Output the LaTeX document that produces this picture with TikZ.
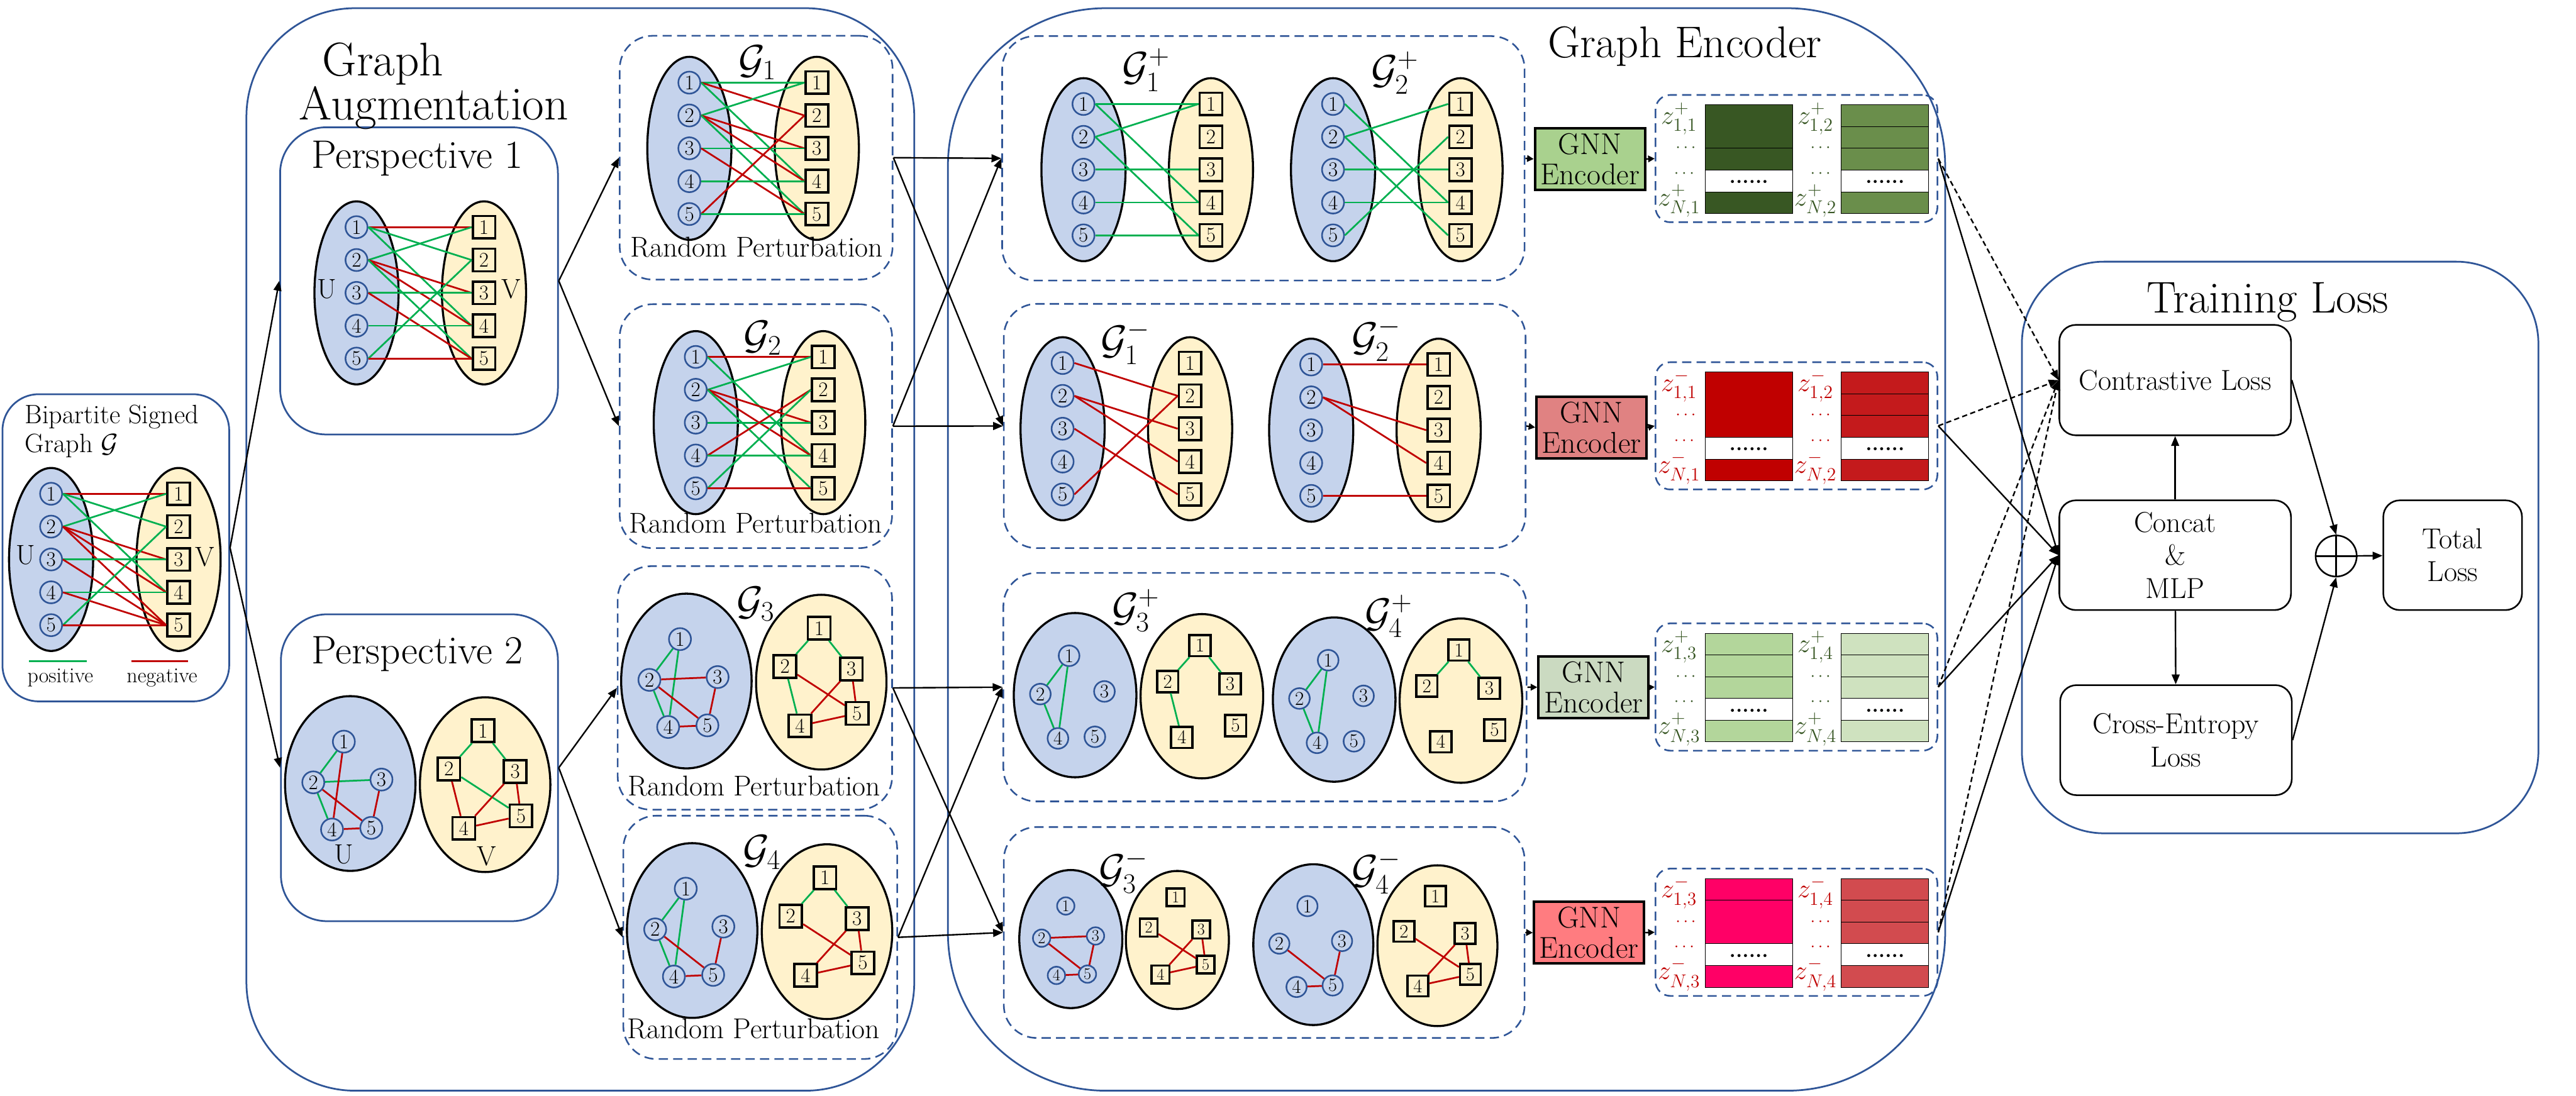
\documentclass[tikz,border=0pt]{standalone}
\usepackage{fix-cm}
\usepackage{fontspec}
\usepackage{amssymb}
\usepackage{amsmath}
\usepackage{xcolor}
\usepackage{tikz}
\usetikzlibrary{shapes.geometric, arrows.meta, positioning, calc}

\definecolor{boxblue}{HTML}{2F5597}
\definecolor{setu}{HTML}{C5D3EC}
\definecolor{setv}{HTML}{FFF2CC}
\definecolor{posc}{HTML}{00B050}
\definecolor{negc}{HTML}{C00000}
\definecolor{gnnA}{HTML}{A9D18E}
\definecolor{gnnB}{HTML}{E08282}
\definecolor{gnnC}{HTML}{CBDAC1}
\definecolor{gnnD}{HTML}{FF7C80}
\definecolor{embAl}{HTML}{385723}
\definecolor{embAr}{HTML}{6A8E4B}
\definecolor{embBl}{HTML}{C00000}
\definecolor{embBr}{HTML}{C41A1C}
\definecolor{embCl}{HTML}{B3D69B}
\definecolor{embCr}{HTML}{CFE2BF}
\definecolor{embDl}{HTML}{FF0066}
\definecolor{embDr}{HTML}{D24B4F}
\definecolor{zgreen}{HTML}{375623}
\definecolor{zred}{HTML}{C00000}

\newcommand{\fsnum}{\fontsize{18}{18}\selectfont}
\newcommand{\fsset}{\fontsize{24}{24}\selectfont}
\newcommand{\fsbip}{\fontsize{23}{25}\selectfont}
\newcommand{\fslegend}{\fontsize{18.5}{18.5}\selectfont}
\newcommand{\fspersp}{\fontsize{34.5}{34.5}\selectfont}
\newcommand{\fsaug}{\fontsize{41}{31}\selectfont}
\newcommand{\fstitle}{\fontsize{38.5}{31}\selectfont}
\newcommand{\fsrandom}{\fontsize{24.8}{24.8}\selectfont}
\newcommand{\fsgraph}{\fontsize{35}{35}\selectfont}
\newcommand{\fsgnn}{\fontsize{26}{26}\selectfont}
\newcommand{\fsz}{\fontsize{23}{23}\selectfont}
\newcommand{\fsdots}{\fontsize{15}{15}\selectfont}
\newcommand{\fsrow}{\fontsize{18}{18}\selectfont}
\newcommand{\fsloss}{\fontsize{25}{28.5}\selectfont}

\tikzstyle{bigbox} = [rectangle, draw=boxblue, line width=1.5pt, inner sep=0]
\tikzstyle{dashbox} = [rectangle, draw=boxblue, line width=1.4pt, dash pattern=on 2.8mm off 1.6mm, rounded corners=10mm, inner sep=0]
\tikzstyle{embbox} = [rectangle, draw=boxblue, line width=1.4pt, dash pattern=on 2.8mm off 1.6mm, rounded corners=4.5mm, inner sep=0, minimum width=85.8mm, minimum height=38.75mm]
\tikzstyle{uset} = [ellipse, draw=black, line width=1.8pt, fill=setu, inner sep=0]
\tikzstyle{vset} = [ellipse, draw=black, line width=1.8pt, fill=setv, inner sep=0]
\tikzstyle{unode} = [circle, draw=boxblue, line width=1.4pt, minimum size=6.7mm, inner sep=0, font=\fsnum]
\tikzstyle{vnode} = [rectangle, draw=black, line width=2pt, minimum size=6.85mm, inner sep=0, font=\fsnum]
\tikzstyle{edge} = [line width=1.5pt]
\tikzstyle{arrow} = [line width=1.3pt, -{Triangle[length=3mm, width=2.4mm]}]
\tikzstyle{gnn} = [rectangle, draw=black, line width=2.2pt, minimum width=33.5mm, minimum height=18.75mm, inner sep=0, align=center, font=\fsgnn]
\tikzstyle{lossbox} = [rectangle, draw=black, line width=1.4pt, rounded corners=5mm, align=center, inner sep=0, font=\fsloss]
\tikzstyle{gtitle} = [inner sep=0, font=\fsgraph]
\tikzstyle{zlabel} = [inner sep=0, font=\fsz]
\tikzstyle{zdots} = [inner sep=0, font=\fsdots]

% two-column bipartite graph, nodes stacked
\newcommand{\tallgraph}[3]{%
  \begin{scope}[shift={#2}]
    \node[uset, minimum width=25.6mm, minimum height=55.7mm] (#1U) at (0,0) {};
    \node[vset, minimum width=25.6mm, minimum height=55.7mm] (#1V) at (77.6,0) {};
    \foreach \i in {1,...,5} {
      \node[unode] (#1u\i) at (0,{20*(\i-3)}) {\i};
      \node[vnode] (#1v\i) at (77.6,{20*(\i-3)}) {\i};
    }
    \foreach \a/\b/\c in {#3}
      \draw[edge, draw=\c] (#1u\a.east) -- (#1v\b.west);
  \end{scope}}

% two sets drawn side by side, edges inside each set
\newcommand{\roundgraph}[5]{%
  \begin{scope}[shift={#2}, scale=#3, transform shape]
    \node[uset, minimum width=39.7mm, minimum height=53.2mm] (#1U) at (0,0) {};
    \node[vset, minimum width=39.7mm, minimum height=53.2mm] (#1V) at (82.1,0.7) {};
    \foreach \i/\x/\y in {1/-3.9/-25.5, 2/-22.5/-0.7, 3/19/-2.4, 4/-11.1/28, 5/12.8/27}
      \node[unode] (#1u\i) at (\x,\y) {\i};
    \foreach \i/\x/\y in {1/-1.3/-32.8, 2/-22.1/-9.5, 3/18.3/-8, 4/-13/26.6, 5/21.8/19}
      \node[vnode] (#1v\i) at ({82.1+\x},{0.7+\y}) {\i};
    \foreach \a/\b/\c in {#4}
      \draw[edge, draw=\c] (#1u\a) -- (#1u\b);
    \foreach \a/\b/\c in {#5}
      \draw[edge, draw=\c] (#1v\a) -- (#1v\b);
  \end{scope}}

% one embedding column: x, top, colour, separators, name of dots
\newcommand{\embcol}[5]{%
  \fill[#3] (#1,#2) rectangle ++(53.2,39.7);
  \fill[#3] (#1,{#2+53}) rectangle ++(53.2,13.2);
  \foreach \s in {#4}
    \draw[line width=0.5pt] (#1,{#2+13.24*\s}) -- ++(53.2,0);
  \draw[line width=0.5pt] (#1,#2) rectangle ++(53.2,66.2);
  \node[inner sep=0, font=\fsrow\bfseries] (#5) at ({#1+26.6},{#2+47}) {......};}

% name, top, left colour, right colour, sign, k1, k2, label colour, left separators
\newcommand{\embblock}[9]{%
  \node[embbox] (#1) at (1093.5,{#2+38.75}) {};
  \embcol{1037.9}{#2+6}{#3}{#9}{#1dl}
  \embcol{1120.8}{#2+6}{#4}{1,2,3,4}{#1dr}
  \node[zlabel, text=#8] (#1la) at (1022,{#2+14.5}) {$z^{#5}_{1,#6}$};
  \node[zdots, text=#8] (#1lb) at (1027,{#2+32.4}) {$\cdots$};
  \node[zdots, text=#8] (#1lc) at (1026,{#2+48}) {$\cdots$};
  \node[zlabel, text=#8] (#1ld) at (1022,{#2+64.5}) {$z^{#5}_{N,#6}$};
  \node[zlabel, text=#8] (#1ra) at (1105,{#2+14.5}) {$z^{#5}_{1,#7}$};
  \node[zdots, text=#8] (#1rb) at (1109,{#2+32.4}) {$\cdots$};
  \node[zdots, text=#8] (#1rc) at (1109,{#2+48}) {$\cdots$};
  \node[zlabel, text=#8] (#1rd) at (1105,{#2+64.5}) {$z^{#5}_{N,#7}$};}

\begin{document}
\begin{tikzpicture}[x=0.5mm, y=-0.5mm]
  \useasboundingbox (0,0) rectangle (1568,667);

  % outer frames
  \node[bigbox, rounded corners=11mm, minimum width=69mm, minimum height=93.5mm] (bip) at (70.5,333.5) {};
  \node[bigbox, rounded corners=33mm, minimum width=203.25mm, minimum height=329.5mm] (augbox) at (353.25,334.5) {};
  \node[bigbox, rounded corners=48mm, minimum width=303.5mm, minimum height=329.5mm] (encbox) at (880.5,334.5) {};
  \node[bigbox, rounded corners=25mm, minimum width=157.2mm, minimum height=174mm] (lossarea) at (1387.9,333.3) {};
  \node[bigbox, rounded corners=14mm, minimum width=84.55mm, minimum height=93.5mm] (persp1) at (255.05,171) {};
  \node[bigbox, rounded corners=14mm, minimum width=84.3mm, minimum height=93.4mm] (persp2) at (255.3,467.4) {};

  \node[dashbox, minimum width=83.05mm, minimum height=74.2mm] (augAbox) at (460.25,96) {};
  \node[dashbox, minimum width=82.9mm, minimum height=74.25mm] (augBbox) at (460.1,259.45) {};
  \node[dashbox, minimum width=83.5mm, minimum height=74.1mm] (augCbox) at (459.5,418.8) {};
  \node[dashbox, minimum width=83.35mm, minimum height=74.05mm] (augDbox) at (462.75,570.65) {};
  \node[dashbox, minimum width=159mm, minimum height=74.4mm] (encA) at (769,96.4) {};
  \node[dashbox, minimum width=158.8mm, minimum height=74.35mm] (encB) at (769.8,259.35) {};
  \node[dashbox, minimum width=159.25mm, minimum height=69.55mm] (encC) at (770,418.35) {};
  \node[dashbox, minimum width=158.5mm, minimum height=64.2mm] (encD) at (769.5,567.7) {};

  % titles
  \node[anchor=north west, align=left, inner sep=0, font=\fsaug] (augtitle) at (182,26) {\hspace*{7mm}Graph\\Augmentation};
  \node[anchor=base west, inner sep=0, font=\fstitle] (enctitle) at (942,35) {Graph Encoder};
  \node[anchor=base, inner sep=0, font=\fstitle] (losstitle) at (1380.3,190.6) {Training Loss};
  \node[anchor=base, inner sep=0, font=\fspersp] (p1title) at (254,102.3) {Perspective 1};
  \node[anchor=base, inner sep=0, font=\fspersp] (p2title) at (254,404) {Perspective 2};
  \node[anchor=north west, align=left, inner sep=0, font=\fsbip] (biptitle) at (15,246.5) {Bipartite Signed\\Graph $\mathcal{G}$};

  % input graph and perspective 1
  \tallgraph{inG}{(31.1,340.6)}{1/1/negc, 1/2/posc, 1/4/posc, 2/1/posc, 2/3/negc, 2/4/negc, 2/5/negc, 3/3/posc, 3/5/negc, 4/4/posc, 4/5/negc, 5/2/posc, 5/5/negc}
  \node[inner sep=0, font=\fsset] (inGUl) at (15.5,338) {U};
  \node[inner sep=0, font=\fsset] (inGVl) at (124.6,339) {V};
  \draw[edge, draw=posc] (17.8,402.6) -- (52.7,402.6);
  \draw[edge, draw=negc] (79.9,402.6) -- (114.6,402.6);
  \node[anchor=base, inner sep=0, font=\fslegend] (legpos) at (36.7,415.5) {positive};
  \node[anchor=base, inner sep=0, font=\fslegend] (legneg) at (98.6,415.5) {negative};

  \tallgraph{perA}{(217,178.3)}{1/1/negc, 1/2/posc, 1/4/posc, 2/1/posc, 2/3/negc, 2/4/negc, 2/5/posc, 3/3/posc, 3/5/negc, 4/4/posc, 5/2/posc, 5/5/negc}
  \node[inner sep=0, font=\fsset] (perAUl) at (199,176) {U};
  \node[inner sep=0, font=\fsset] (perAVl) at (311,176) {V};

  % perspective 2
  \roundgraph{perB}{(213.2,477)}{1}{1/2/posc, 2/3/posc, 2/4/posc, 1/4/negc, 2/5/negc, 3/5/negc, 4/5/negc}{1/2/posc, 1/3/posc, 2/5/posc, 2/4/negc, 3/4/negc, 3/5/negc, 4/5/negc}
  \node[inner sep=0, font=\fsset] (perBUl) at (209.3,520.3) {U};
  \node[inner sep=0, font=\fsset] (perBVl) at (296.3,521.5) {V};

  % augmented views
  \tallgraph{augA}{(419.6,90.3)}{1/1/posc, 1/2/negc, 1/4/posc, 2/1/posc, 2/3/negc, 2/4/negc, 2/5/posc, 3/3/posc, 3/5/negc, 4/4/posc, 5/2/negc, 5/5/posc}
  \tallgraph{augB}{(423.5,257.3)}{1/1/negc, 1/4/posc, 2/1/posc, 2/3/negc, 2/4/negc, 2/5/posc, 3/3/posc, 4/2/negc, 4/4/posc, 5/2/posc, 5/5/negc}
  \roundgraph{augC}{(417.8,414.6)}{1}{1/2/posc, 1/4/posc, 2/4/posc, 2/3/negc, 2/5/negc, 3/5/negc, 4/5/negc}{1/2/posc, 1/3/posc, 2/4/posc, 2/5/negc, 3/4/negc, 3/5/negc, 4/5/negc}
  \roundgraph{augD}{(421.3,566.5)}{1}{1/2/posc, 1/4/posc, 2/4/posc, 2/5/negc, 3/5/negc, 4/5/negc}{1/2/posc, 1/3/posc, 2/5/negc, 3/4/negc, 3/5/negc, 4/5/negc}
  \node[gtitle] (tA) at (461,38) {$\mathcal{G}_1$};
  \node[gtitle] (tB) at (464.3,205.8) {$\mathcal{G}_2$};
  \node[gtitle] (tC) at (460,367.6) {$\mathcal{G}_3$};
  \node[gtitle] (tD) at (463.7,519) {$\mathcal{G}_4$};
  \node[anchor=base, inner sep=0, font=\fsrandom] (rpA) at (460.5,156.3) {Random Perturbation};
  \node[anchor=base, inner sep=0, font=\fsrandom] (rpB) at (460,324.3) {Random Perturbation};
  \node[anchor=base, inner sep=0, font=\fsrandom] (rpC) at (459,484.5) {Random Perturbation};
  \node[anchor=base, inner sep=0, font=\fsrandom] (rpD) at (458.7,632.2) {Random Perturbation};

  % signed sub-views
  \tallgraph{posA}{(659.5,103.3)}{1/1/posc, 1/4/posc, 2/1/posc, 2/5/posc, 3/3/posc, 4/4/posc, 5/5/posc}
  \tallgraph{posB}{(811.4,103.3)}{1/4/posc, 2/1/posc, 2/5/posc, 3/3/posc, 4/4/posc, 5/2/posc}
  \tallgraph{negA}{(646.8,261)}{1/2/negc, 2/3/negc, 2/4/negc, 3/5/negc, 5/2/negc}
  \tallgraph{negB}{(798.1,261.9)}{1/1/negc, 2/3/negc, 2/4/negc, 5/5/negc}
  \roundgraph{posC}{(654.4,423.2)}{0.94}{1/2/posc, 1/4/posc, 2/4/posc}{1/2/posc, 1/3/posc, 2/4/posc}
  \roundgraph{posD}{(812.1,425.9)}{0.94}{1/2/posc, 1/4/posc, 2/4/posc}{1/2/posc, 1/3/posc}
  \roundgraph{negC}{(651.8,571.7)}{0.79}{2/3/negc, 2/5/negc, 3/5/negc, 4/5/negc}{2/5/negc, 3/4/negc, 3/5/negc, 4/5/negc}
  \roundgraph{negD}{(799.4,575.1)}{0.92}{2/5/negc, 3/5/negc, 4/5/negc}{2/5/negc, 3/4/negc, 3/5/negc, 4/5/negc}
  \node[gtitle] (tpA) at (697.6,42.6) {$\mathcal{G}_1^{+}$};
  \node[gtitle] (tpB) at (849,44.4) {$\mathcal{G}_2^{+}$};
  \node[gtitle] (tnA) at (685,208.6) {$\mathcal{G}_1^{-}$};
  \node[gtitle] (tnB) at (837.6,206.6) {$\mathcal{G}_2^{-}$};
  \node[gtitle] (tpC) at (691.3,371.8) {$\mathcal{G}_3^{+}$};
  \node[gtitle] (tpD) at (845.2,375) {$\mathcal{G}_4^{+}$};
  \node[gtitle] (tnC) at (683.7,530.5) {$\mathcal{G}_3^{-}$};
  \node[gtitle] (tnD) at (837.6,531) {$\mathcal{G}_4^{-}$};

  % encoders and embeddings
  \node[gnn, fill=gnnA] (gnnA) at (967.8,96.8) {GNN\\Encoder};
  \node[gnn, fill=gnnB] (gnnB) at (968.75,260.2) {GNN\\Encoder};
  \node[gnn, fill=gnnC] (gnnC) at (970,418.4) {GNN\\Encoder};
  \node[gnn, fill=gnnD] (gnnD) at (967.25,567.8) {GNN\\Encoder};
  \embblock{embA}{57.8}{embAl}{embAr}{+}{1}{2}{zgreen}{2,3,4}
  \embblock{embB}{220.5}{embBl}{embBr}{-}{1}{2}{zred}{3,4}
  \embblock{embC}{379.5}{embCl}{embCr}{+}{3}{4}{zgreen}{1,2,3,4}
  \embblock{embD}{528.8}{embDl}{embDr}{-}{3}{4}{zred}{1,3,4}

  % training loss
  \node[lossbox, minimum width=70.5mm, minimum height=33.6mm] (contr) at (1324,231.4) {Contrastive Loss};
  \node[lossbox, minimum width=70.5mm, minimum height=33.4mm] (concat) at (1324,338) {Concat\\\&\\MLP};
  \node[lossbox, minimum width=70.5mm, minimum height=33.5mm] (ce) at (1324.5,450.6) {Cross-Entropy\\Loss};
  \node[circle, draw=black, line width=1.4pt, minimum size=12.5mm, inner sep=0] (plus) at (1422,338.5) {};
  \draw[line width=1.4pt] (plus.north) -- (plus.south);
  \draw[line width=1.4pt] (plus.west) -- (plus.east);
  \node[lossbox, minimum width=42.2mm, minimum height=33.4mm] (total) at (1492.9,338) {Total\\Loss};

  % connectors
  \draw[arrow] (bip.east) -- (persp1.west);
  \draw[arrow] (bip.east) -- (persp2.west);
  \draw[arrow] (persp1.east) -- (augAbox.west);
  \draw[arrow] (persp1.east) -- (augBbox.west);
  \draw[arrow] (persp2.east) -- (augCbox.west);
  \draw[arrow] (persp2.east) -- (augDbox.west);
  \foreach \s in {augAbox, augBbox} {
    \draw[arrow] (\s.east) -- (encA.west);
    \draw[arrow] (\s.east) -- (encB.west);
  }
  \foreach \s in {augCbox, augDbox} {
    \draw[arrow] (\s.east) -- (encC.west);
    \draw[arrow] (\s.east) -- (encD.west);
  }
  \foreach \v/\g in {encA/gnnA, encB/gnnB, encC/gnnC, encD/gnnD}
    \draw[line width=1.3pt, -{Triangle[length=2mm, width=2mm]}] (\v.east) -- (\g.west);
  \foreach \g/\e in {gnnA/embA, gnnB/embB, gnnC/embC, gnnD/embD}
    \draw[line width=1.3pt, -{Triangle[length=2mm, width=2mm]}] (\g.east) -- (\e.west);
  \foreach \e in {embA, embB, embC, embD} {
    \draw[arrow, dash pattern=on 1.6mm off 1mm] (\e.east) -- (contr.west);
    \draw[arrow] (\e.east) -- (concat.west);
  }
  \draw[arrow] (concat) -- (contr);
  \draw[arrow] (concat) -- (ce);
  \draw[arrow] (contr.east) -- (plus.north);
  \draw[arrow] (ce.east) -- (plus.south);
  \draw[arrow] (plus) -- (total);
\end{tikzpicture}
\end{document}
